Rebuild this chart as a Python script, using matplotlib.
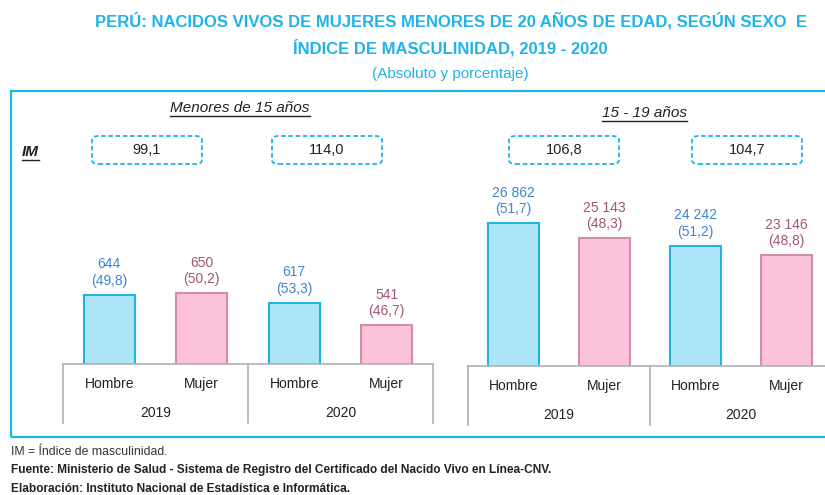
import matplotlib
matplotlib.use("Agg")
import matplotlib.pyplot as plt
from matplotlib.patches import Rectangle, FancyBboxPatch
from matplotlib.lines import Line2D

plt.rcParams['font.family'] = ['Liberation Sans', 'DejaVu Sans']

# data
sexes = ["Hombre", "Mujer", "Hombre", "Mujer"]
years = ["2019", "2020"]
menores15 = [644, 650, 617, 541]
menores15_pct = [49.8, 50.2, 53.3, 46.7]
de15a19 = [26862, 25143, 24242, 23146]
de15a19_pct = [51.7, 48.3, 51.2, 48.8]
im_menores15 = [99.1, 114.0]
im_15a19 = [106.8, 104.7]

W, H = 825, 495
BLUE = "#1fb3e8"
FILL_H, EDGE_H, TXT_H = "#ade5f8", "#22b2e6", "#3f86c8"
FILL_M, EDGE_M, TXT_M = "#fcc1db", "#cf8faa", "#a4566f"
GRAY = "#b0b0b0"

fig = plt.figure(figsize=(W / 100, H / 100), dpi=100)


def fx(px):
    return px / W


def fy(py):
    return 1 - py / H


def fmt_num(v):
    return f"{v:,}".replace(",", " ")


def fmt_dec(v):
    return f"{v:.1f}".replace(".", ",")


def panel(rect, vals, pcts, ylim):
    ax = fig.add_axes(rect)
    x = range(len(vals))
    fills = [FILL_H, FILL_M] * 2
    edges = [EDGE_H, EDGE_M] * 2
    tcols = [TXT_H, TXT_M] * 2
    ax.bar(x, vals, width=0.55, color=fills, edgecolor=edges, linewidth=1.5, zorder=2)
    ax.set_xlim(-0.5, len(vals) - 0.5)
    ax.set_ylim(*ylim)
    for s in ["top", "right", "left"]:
        ax.spines[s].set_visible(False)
    ax.spines["bottom"].set_color(GRAY)
    ax.spines["bottom"].set_linewidth(1.2)
    ax.set_xticks([])
    ax.set_yticks([])
    ax.patch.set_visible(False)
    for i, (v, p) in enumerate(zip(vals, pcts)):
        ax.annotate(f"{fmt_num(v)}\n({fmt_dec(p)})", (i, v), xytext=(0, 5),
                    textcoords="offset points", ha="center", va="bottom",
                    fontsize=10, color=tcols[i], linespacing=1.2)
        ax.annotate(sexes[i], (i, 0), xycoords=("data", "axes fraction"),
                    xytext=(0, -14.5), textcoords="offset points",
                    ha="center", va="center", fontsize=10, color="#222222")
    for j, yr in enumerate(years):
        ax.annotate(yr, (2 * j + 0.5, 0), xycoords=("data", "axes fraction"),
                    xytext=(0, -35.5), textcoords="offset points",
                    ha="center", va="center", fontsize=10, color="#222222")
    # table separators below the baseline
    drop = 59 * (ylim[1] - ylim[0]) / (rect[3] * H)
    for xv in [-0.5, 1.5, 3.5]:
        ax.plot([xv, xv], [ylim[0], ylim[0] - drop], color=GRAY, lw=1.2, clip_on=False)
    return ax


panel([fx(63), fy(364), fx(433) - fx(63), 164 / H], menores15, menores15_pct, (408, 408 + 164 * 3.4))
panel([fx(468), fy(366), fx(832) - fx(468), 166 / H], de15a19, de15a19_pct, (10270, 10270 + 166 * 116))

# outer frame
fig.add_artist(Rectangle((fx(11), fy(437)), fx(860) - fx(11), fy(91) - fy(437),
                         transform=fig.transFigure, fill=False, edgecolor=BLUE, lw=1.6))

# titles
fig.text(fx(451), fy(21), "PERÚ: NACIDOS VIVOS DE MUJERES MENORES DE 20 AÑOS DE EDAD, SEGÚN SEXO  E",
         ha="center", va="center", fontsize=12, fontweight="bold", color=BLUE)
fig.text(fx(450), fy(48), "ÍNDICE DE MASCULINIDAD, 2019 - 2020",
         ha="center", va="center", fontsize=12, fontweight="bold", color=BLUE)
fig.text(fx(450), fy(74), "(Absoluto y porcentaje)", ha="center", va="center",
         fontsize=11, color=BLUE)

# panel headers (underlined)
headers = [
    fig.text(fx(240), fy(108), "Menores de 15 años", ha="center", va="center",
             fontsize=11, style="italic", color="#222222"),
    fig.text(fx(644), fy(113), "15 - 19 años", ha="center", va="center",
             fontsize=11, style="italic", color="#222222"),
    fig.text(fx(22), fy(152), "IM", ha="left", va="center",
             fontsize=11, style="italic", fontweight="bold", color="#222222"),
]

# IM boxes
box_centers = [147, 327, 564, 747]
im_vals = im_menores15 + im_15a19
for cx, v in zip(box_centers, im_vals):
    fig.add_artist(FancyBboxPatch((fx(cx - 55), fy(164)), fx(110), fy(136) - fy(164),
                                  boxstyle="round,pad=0,rounding_size=0.008",
                                  transform=fig.transFigure, fill=False,
                                  edgecolor=BLUE, lw=1.3, linestyle=(0, (2.5, 1.5))))
    fig.text(fx(cx), fy(150), fmt_dec(v), ha="center", va="center", fontsize=10.5,
             color="#222222")

# footer
fig.text(fx(11), fy(452), "IM = Índice de masculinidad.", ha="left", va="center",
         fontsize=8.8, color="#333333")
fig.text(fx(11), fy(470), "Fuente: Ministerio de Salud - Sistema de Registro del Certificado del Nacido Vivo en Línea-CNV.",
         ha="left", va="center", fontsize=8.6, fontweight="bold", color="#222222")
fig.text(fx(11), fy(489), "Elaboración: Instituto Nacional de Estadística e Informática.",
         ha="left", va="center", fontsize=8.6, fontweight="bold", color="#222222")

fig.canvas.draw()
renderer = fig.canvas.get_renderer()
for t in headers:
    bb = t.get_window_extent(renderer).transformed(fig.transFigure.inverted())
    yline = bb.y0 - 1 / H
    fig.add_artist(Line2D([bb.x0, bb.x1], [yline, yline], transform=fig.transFigure,
                          color="#222222", lw=1))

fig.savefig("out.png", dpi=100)
